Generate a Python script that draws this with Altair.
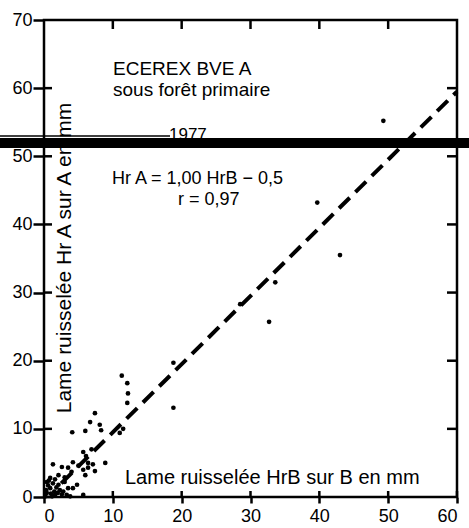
import altair as alt
import pandas as pd

# ---- data ----
x_tick_values = [0, 10, 20, 30, 40, 50, 60]
y_tick_values = [0, 10, 20, 30, 40, 50, 60, 70]
inner_x_ticks = [10, 20, 30, 40, 50]
inner_y_ticks = [10, 20, 30, 40, 50, 60]

hrb = [49.3, 39.7, 43.0, 33.6, 28.5, 32.7, 18.8, 18.8, 11.3, 12.1, 12.2, 12.1,
       7.4, 6.7, 8.1, 8.3, 4.1, 6.0, 11.0, 11.5,
       5.7, 6.9, 6.1, 6.4, 7.1, 8.9, 4.2, 1.3, 2.6, 3.5, 6.4, 5.7, 7.4, 5.0,
       2.1, 3.0, 4.0, 6.0, 4.8, 4.2, 5.7,
       0.9, 0.4, 1.3, 2.1, 0.9, 2.3, 0.4, 1.6, 2.6, 3.3, 3.8, 1.2, 0.2, 3.0,
       3.5, 1.8, 0.6, 1.5, 2.8, 0.3, 1.0, 2.0, 0.7, 1.6]
hra = [55.2, 43.2, 35.5, 31.5, 28.3, 25.7, 19.7, 13.1, 17.8, 16.7, 15.2, 13.8,
       12.3, 11.0, 10.6, 9.8, 9.5, 9.7, 9.4, 10.0,
       6.6, 7.0, 6.0, 5.0, 4.8, 5.0, 5.1, 4.8, 4.4, 4.3, 4.3, 4.0, 3.8, 4.6,
       3.2, 2.9, 3.7, 3.2, 1.8, 1.3, 0.3,
       2.8, 2.2, 2.0, 1.8, 1.3, 1.0, 0.6, 0.3, 0.4, 0.3, 0.1, 0.1, 0.1, 2.2,
       1.3, 1.4, 1.7, 0.8, 0.8, 1.0, 0.5, 0.6, 2.4, 2.6]

reg_x = [2.5, 60.0]
reg_y = [2.0, 59.5]

title_lines = ["ECEREX BVE A", "sous forêt primaire"]
year_label = "1977"
equation = "Hr A = 1,00 HrB − 0,5"
corr = "r = 0,97"
x_title = "Lame ruisselée HrB sur B en mm"
y_title = "Lame ruisselée Hr A sur A en mm"

FONT = "Liberation Sans"
W, H = 413, 477

xs = alt.Scale(domain=[0, 60], nice=False, zero=False)
ys = alt.Scale(domain=[0, 70], nice=False, zero=False)
X_AX = alt.Axis(orient="bottom", values=x_tick_values, ticks=True, tickSize=6, tickWidth=2.5,
                tickColor="black", domain=False, grid=False, title=None, labelPadding=4)
Y_AX = alt.Axis(orient="left", values=y_tick_values, ticks=True, tickSize=11, tickWidth=2.5,
                tickColor="black", domain=False, grid=False, title=None, labelPadding=1)


def X(f):
    return alt.X(f, scale=xs, axis=X_AX)


def Y(f):
    return alt.Y(f, scale=ys, axis=Y_AX)


pts = pd.DataFrame({"hrb": hrb, "hra": hra})
points = alt.Chart(pts).mark_circle(size=22, color="black", opacity=1).encode(
    x=X("hrb:Q"), y=Y("hra:Q"))

# inner parts of the frame ticks
TICK = dict(color="black", strokeWidth=2.5, opacity=1)
left_in = alt.Chart(pd.DataFrame({"v": y_tick_values[:-1]})).mark_rule(**TICK).encode(
    y=Y("v:Q"), x=alt.value(0), x2=alt.value(8))
bottom_in = alt.Chart(pd.DataFrame({"v": x_tick_values[1:]})).mark_rule(**TICK).encode(
    x=X("v:Q"), y=alt.value(H - 6), y2=alt.value(H))
right_in = alt.Chart(pd.DataFrame({"v": inner_y_ticks})).mark_rule(**TICK).encode(
    y=Y("v:Q"), x=alt.value(W - 10), x2=alt.value(W))
top_in = alt.Chart(pd.DataFrame({"v": inner_x_ticks})).mark_rule(**TICK).encode(
    x=X("v:Q"), y=alt.value(0), y2=alt.value(9))

reg = pd.DataFrame({"hrb": reg_x, "hra": reg_y})
line = alt.Chart(reg).mark_line(color="black", strokeWidth=4, strokeDash=[15, 8]).encode(
    x=X("hrb:Q"), y=Y("hra:Q"))


def txt(s, px, py, size=18, angle=0, align="left", baseline="middle"):
    kw = dict(font=FONT, fontSize=size, color="black", align=align, baseline=baseline)
    if angle:
        kw["angle"] = angle
    return alt.Chart().mark_text(**kw).encode(
        x=alt.value(px), y=alt.value(py), text=alt.value(s))


texts = [
    txt(title_lines[0], 69, 49, size=19),
    txt(title_lines[1], 69, 70, size=19),
    txt(year_label, 125, 120, size=17, baseline="alphabetic"),
    txt(equation, 68, 159),
    txt(corr, 134, 180),
    txt(x_title, 81, 458, size=20),
    txt(y_title, 21, 238, size=21, angle=270, align="center"),
]

bar = alt.Chart().mark_rule(color="black", strokeWidth=10).encode(
    x=alt.value(-44), x2=alt.value(425), y=alt.value(123))
thin = alt.Chart().mark_rule(color="black", strokeWidth=1.5).encode(
    x=alt.value(-44), x2=alt.value(126), y=alt.value(116))

chart = alt.layer(
    points, line, left_in, bottom_in, right_in, top_in, *texts, thin, bar
).properties(
    width=W, height=H,
    autosize=alt.AutoSizeParams(type="none"),
    padding={"left": 44, "top": 20, "right": 12, "bottom": 31},
    background="white",
).configure_view(
    stroke="black", strokeWidth=2.5
).configure_axis(
    labelFont=FONT, labelFontSize=18, labelColor="black"
)

chart.save("out.html", embed_options={"renderer": "svg", "actions": False})
